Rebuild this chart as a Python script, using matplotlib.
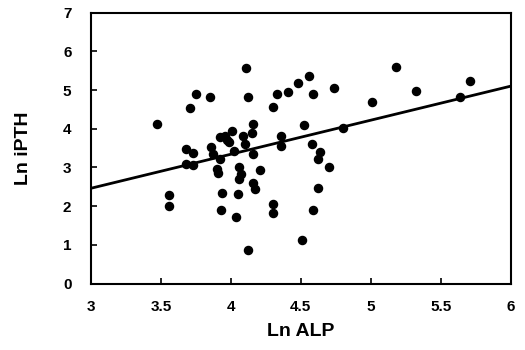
import numpy as np
from matplotlib import pyplot as plt

plt.rcParams['font.family'] = ['Liberation Sans', 'DejaVu Sans']
plt.rcParams['font.weight'] = 'bold'

ln_alp = [3.47, 3.56, 3.56, 3.71, 3.75, 3.68, 3.73, 3.68, 3.73, 3.85,
          3.86, 3.87, 3.92, 3.90, 3.91, 3.94, 3.93, 3.92, 3.96, 3.99,
          4.01, 3.97, 4.02, 4.04, 4.05, 4.06, 4.07, 4.06, 4.11, 4.12,
          4.12, 4.09, 4.10, 4.15, 4.16, 4.16, 4.16, 4.17, 4.21, 4.30,
          4.33, 4.41, 4.48, 4.36, 4.36, 4.30, 4.30, 4.51, 4.52, 4.56,
          4.59, 4.74, 4.58, 4.64, 4.62, 4.70, 4.62, 4.59, 4.80, 5.01,
          5.18, 5.32, 5.64, 5.71]
ln_ipth = [4.12, 2.28, 2.00, 4.54, 4.90, 3.47, 3.36, 3.10, 3.06, 4.82,
           3.52, 3.34, 3.21, 2.95, 2.86, 2.34, 1.91, 3.78, 3.81, 3.66,
           3.95, 3.72, 3.43, 1.72, 2.30, 3.02, 2.83, 2.70, 5.58, 4.81,
           0.86, 3.81, 3.60, 3.90, 4.12, 3.34, 2.59, 2.43, 2.93, 4.55,
           4.90, 4.96, 5.19, 3.82, 3.56, 2.05, 1.81, 1.12, 4.09, 5.36,
           4.90, 5.04, 3.60, 3.40, 3.21, 3.00, 2.46, 1.91, 4.03, 4.68,
           5.60, 4.98, 4.83, 5.24]

slope = 0.88
intercept = -0.18

fig = plt.figure(figsize=(5.25, 3.5), dpi=100)
ax = fig.add_axes([0.173, 0.19, 0.80, 0.774])
ax.scatter(ln_alp, ln_ipth, s=34, color='black', zorder=3)
xs = np.array([3, 6])
ax.plot(xs, slope * xs + intercept, color='black', linewidth=2)

ax.set_xlim(3, 6)
ax.set_ylim(0, 7)
ax.set_xticks([3, 3.5, 4, 4.5, 5, 5.5, 6])
ax.set_xticklabels(['3', '3.5', '4', '4.5', '5', '5.5', '6'])
ax.set_yticks(range(8))
ax.tick_params(direction='in', length=4, width=1.2, labelsize=11)
ax.tick_params(axis='x', pad=12)
ax.tick_params(axis='y', pad=14)
for s in ax.spines.values():
    s.set_linewidth(1.5)
ax.set_xlabel('Ln ALP', fontsize=14, fontweight='bold', labelpad=6)
ax.set_ylabel('Ln iPTH', fontsize=14, fontweight='bold', labelpad=22)

fig.savefig('out.png', dpi=100)
